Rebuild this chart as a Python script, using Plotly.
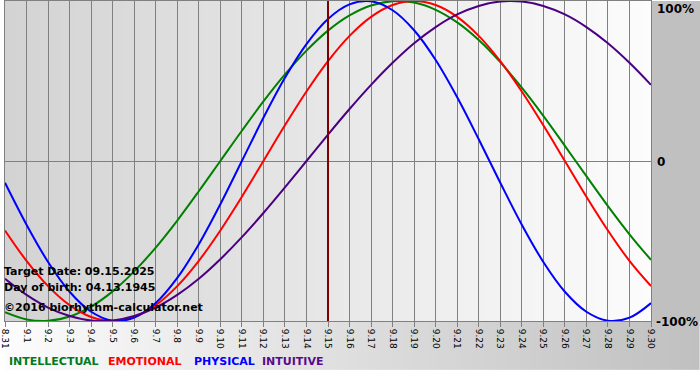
import zlib, struct, base64
import plotly.graph_objects as go

# ---- data ----
day_labels = ["8.31", "9.1", "9.2", "9.3", "9.4", "9.5", "9.6", "9.7", "9.8", "9.9",
              "9.10", "9.11", "9.12", "9.13", "9.14", "9.15", "9.16", "9.17", "9.18", "9.19",
              "9.20", "9.21", "9.22", "9.23", "9.24", "9.25", "9.26", "9.27", "9.28", "9.29", "9.30"]

intellectual = [-94.5, -99.0, -99.9, -97.2, -91.0, -81.5, -69.0, -54.1, -37.2, -18.9,
                0.0, 18.9, 37.2, 54.1, 69.0, 81.5, 91.0, 97.2, 99.9, 99.0,
                94.5, 86.6, 75.6, 61.8, 45.8, 28.2, 9.5, -9.5, -28.2, -45.8, -61.8]

emotional = [-43.4, -62.4, -78.2, -90.1, -97.5, -100.0, -97.5, -90.1, -78.2, -62.4,
             -43.4, -22.3, 0.0, 22.3, 43.4, 62.4, 78.2, 90.1, 97.5, 100.0,
             97.5, 90.1, 78.2, 62.4, 43.4, 22.3, 0.0, -22.3, -43.4, -62.4, -78.2]

physical = [-13.6, -39.8, -63.1, -81.7, -94.2, -99.8, -97.9, -88.8, -73.1, -52.0,
            -27.0, 0.0, 27.0, 52.0, 73.1, 88.8, 97.9, 99.8, 94.2, 81.7,
            63.1, 39.8, 13.6, -13.6, -39.8, -63.1, -81.7, -94.2, -99.8, -97.9, -88.8]

intuitive = [-73.6, -83.7, -91.6, -96.9, -99.7, -99.7, -96.9, -91.6, -83.7, -73.6,
             -61.4, -47.6, -32.5, -16.5, 0.0, 16.5, 32.5, 47.6, 61.4, 73.6,
             83.7, 91.6, 96.9, 99.7, 99.7, 96.9, 91.6, 83.7, 73.6, 61.4, 47.6]

series_names = ["INTELLECTUAL", "EMOTIONAL", "PHYSICAL", "INTUITIVE"]
series_colors = ["#008000", "#ff0000", "#0000ff", "#4b0082"]
legend_colors = ["#007a1e", "#ff0000", "#0000ff", "#5a0a8c"]
target_label = "9.15"
info_lines = ["Target Date: 09.15.2025", "Day of birth: 04.13.1945", "\u00a92016 biorhythm-calculator.net"]
y_labels = ["100%", "0", "-100%"]

# ---- helpers ----
def grad_png(c0, c1, w=256):
    row = bytearray([0])
    for k in range(w):
        t = k / (w - 1)
        row += bytes(round(a + (b - a) * t) for a, b in zip(c0, c1))
    def chunk(tag, data):
        c = struct.pack(">I", len(data)) + tag + data
        return c + struct.pack(">I", zlib.crc32(tag + data) & 0xFFFFFFFF)
    ihdr = struct.pack(">IIBBBBB", w, 1, 8, 2, 0, 0, 0)
    png = (b"\x89PNG\r\n\x1a\n" + chunk(b"IHDR", ihdr)
           + chunk(b"IDAT", zlib.compress(bytes(row))) + chunk(b"IEND", b""))
    return "data:image/png;base64," + base64.b64encode(png).decode()

W, H = 700, 380
ML, MR, MT, MB = 0, 49, 0, 59
PW, PH = W - ML - MR, H - MT - MB

def px_x(p):
    return (p - ML) / PW

def px_y(p):
    return (H - MB - p) / PH

xs = list(range(len(day_labels)))

fig = go.Figure()
for name, vals, col in zip(series_names, [intellectual, emotional, physical, intuitive], series_colors):
    fig.add_trace(go.Scatter(x=xs, y=vals, mode="lines", name=name,
                             line=dict(color=col, width=2, shape="spline", smoothing=1.0),
                             hoverinfo="skip", showlegend=False))

ti = day_labels.index(target_label)
fig.add_shape(type="line", xref="x", yref="paper", x0=ti, x1=ti, y0=0, y1=1,
              line=dict(color="#800000", width=2), layer="above")

# right gray block
fig.add_shape(type="rect", xref="paper", yref="paper", x0=1, x1=px_x(W) + 0.01, y0=0, y1=1,
              fillcolor="#c0c0c0", line=dict(width=0), layer="below")

images = [
    dict(source=grad_png((211, 211, 211), (252, 252, 252)), xref="paper", yref="paper",
         x=0, y=1, sizex=1, sizey=1, xanchor="left", yanchor="top", sizing="stretch", layer="below"),
    dict(source=grad_png((252, 252, 252), (192, 192, 192)), xref="paper", yref="paper",
         x=px_x(0), y=px_y(H - MB), sizex=W / PW, sizey=49 / PH, xanchor="left", yanchor="top",
         sizing="stretch", layer="below"),
]

annotations = []
bold_font = dict(family="DejaVu Sans", size=11, color="#000000")
for txt, yp in zip(info_lines, [271, 287, 307]):
    annotations.append(dict(text="<b>" + txt + "</b>", xref="paper", yref="paper",
                            x=px_x(-2), y=px_y(yp), xanchor="left", yanchor="middle",
                            showarrow=False, font=bold_font, borderpad=0))
for txt, xp, yp in zip(y_labels, [656, 656, 655], [8, 162, 322]):
    annotations.append(dict(text="<b>" + txt + "</b>", xref="paper", yref="paper",
                            x=px_x(xp), y=px_y(yp), xanchor="left", yanchor="middle",
                            showarrow=False, borderpad=0,
                            font=dict(family="DejaVu Sans", size=12, color="#000000")))
for name, col, xp in zip(series_names, legend_colors, [3, 103, 189, 258]):
    annotations.append(dict(text="<b>" + name + "</b>", xref="paper", yref="paper",
                            x=px_x(xp), y=px_y(362), xanchor="left", yanchor="middle",
                            showarrow=False, borderpad=0,
                            font=dict(family="DejaVu Sans", size=11, color=col)))

fig.update_layout(
    width=W, height=H,
    margin=dict(l=ML, r=MR, t=MT, b=MB, pad=0),
    paper_bgcolor="#ffffff",
    plot_bgcolor="rgba(0,0,0,0)",
    images=images,
    annotations=annotations,
    showlegend=False,
    xaxis=dict(range=[0, len(day_labels) - 1], tickvals=xs, ticktext=day_labels, tickangle=90,
               ticks="outside", ticklen=5, tickcolor="#808080", tickwidth=1,
               showgrid=True, gridcolor="#808080", gridwidth=1, zeroline=False,
               showline=True, linecolor="#808080", linewidth=1, mirror=True,
               ticklabeloverflow="allow",
               tickfont=dict(family="DejaVu Sans", size=9, color="#000000"), fixedrange=True),
    yaxis=dict(range=[-100, 100], tickvals=[0], showticklabels=False, ticks="",
               showgrid=True, gridcolor="#808080", gridwidth=1, zeroline=False,
               showline=True, linecolor="#808080", linewidth=1, mirror=True, fixedrange=True),
)

fig.write_html("out.html", config={"displayModeBar": False},
               post_script="document.body.style.margin='0';document.body.style.overflow='hidden';")
